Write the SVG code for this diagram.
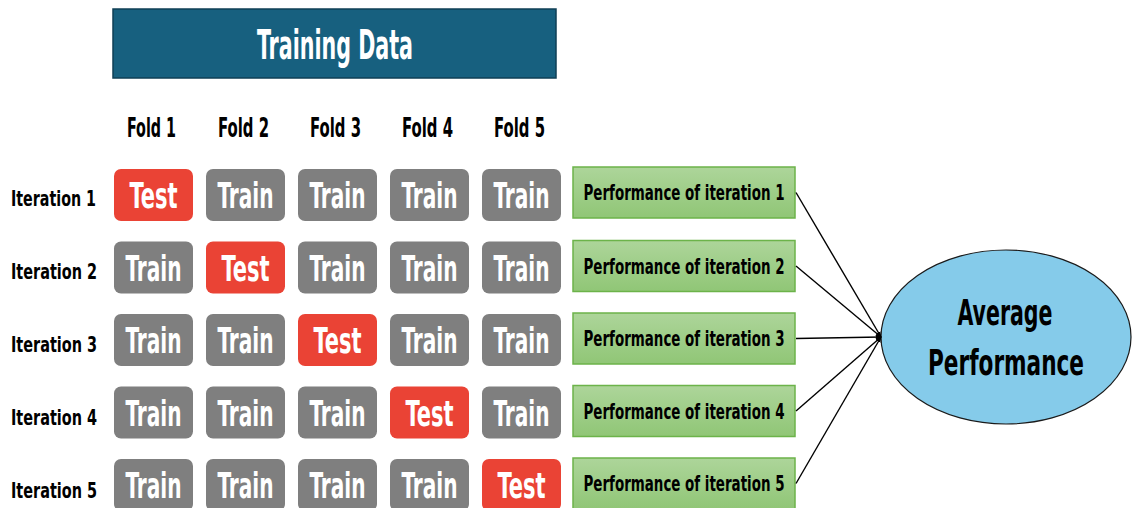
<svg xmlns="http://www.w3.org/2000/svg" width="1133" height="508" viewBox="0 0 1133 508">
  <defs>
    <linearGradient id="perfFill" x1="0" y1="0" x2="0" y2="1">
      <stop offset="0" stop-color="#add59a"/>
      <stop offset="1" stop-color="#90c676"/>
    </linearGradient>
    <marker id="arrow" viewBox="0 0 10 10" refX="9" refY="5" markerWidth="6" markerHeight="6" orient="auto" markerUnits="userSpaceOnUse">
      <path d="M0,1 L10,5 L0,9 Z" fill="#000"/>
    </marker>
    <style>
      text { font-family: "Liberation Sans Narrow", "DejaVu Sans Condensed", "Liberation Sans", sans-serif; font-weight: bold; }
      .hdr { fill: #17607f; stroke: #0f3f55; stroke-width: 1.5; }
      .hdr-t { fill: #fff; font-size: 40px; }
      .fold { fill: #000; font-size: 26px; }
      .iter { fill: #000; font-size: 22px; }
      .train { fill: #7f7f7f; }
      .test { fill: #ea4335; }
      .cell-t { fill: #fff; font-size: 36px; }
      .perf { fill: url(#perfFill); stroke: #6cb34a; stroke-width: 1.5; }
      .perf-t { fill: #000; font-size: 21px; }
      .avg { fill: #85cbea; stroke: #1a1a1a; stroke-width: 1.2; }
      .avg-t { fill: #000; font-size: 35px; }
      .conn { stroke: #000; stroke-width: 1.4; fill: none; marker-end: url(#arrow); }
    </style>
  </defs>

  <rect width="1133" height="508" fill="#fff"/>

  <!-- header bar -->
  <g id="training-data">
    <rect class="hdr" x="113" y="9" width="443" height="69"/>
    <text class="hdr-t" x="335" y="59" text-anchor="middle" textLength="156" lengthAdjust="spacingAndGlyphs">Training Data</text>
  </g>

  <!-- fold column headings -->
  <g id="fold-labels">
    <text class="fold" x="151.5" y="137" text-anchor="middle" textLength="49" lengthAdjust="spacingAndGlyphs">Fold 1</text>
    <text class="fold" x="243.5" y="137" text-anchor="middle" textLength="51" lengthAdjust="spacingAndGlyphs">Fold 2</text>
    <text class="fold" x="335.5" y="137" text-anchor="middle" textLength="51" lengthAdjust="spacingAndGlyphs">Fold 3</text>
    <text class="fold" x="427.5" y="137" text-anchor="middle" textLength="51" lengthAdjust="spacingAndGlyphs">Fold 4</text>
    <text class="fold" x="519.5" y="137" text-anchor="middle" textLength="51" lengthAdjust="spacingAndGlyphs">Fold 5</text>
  </g>

  <!-- iteration 1 -->
  <g id="iteration-1">
    <text class="iter" x="11" y="206" textLength="85" lengthAdjust="spacingAndGlyphs">Iteration 1</text>
    <rect class="test" x="114" y="169" width="79" height="52" rx="7"/>
    <text class="cell-t" x="153.5" y="208" text-anchor="middle" textLength="48" lengthAdjust="spacingAndGlyphs">Test</text>
    <rect class="train" x="206" y="169" width="79" height="52" rx="7"/>
    <text class="cell-t" x="245.5" y="208" text-anchor="middle" textLength="56" lengthAdjust="spacingAndGlyphs">Train</text>
    <rect class="train" x="298" y="169" width="79" height="52" rx="7"/>
    <text class="cell-t" x="337.5" y="208" text-anchor="middle" textLength="56" lengthAdjust="spacingAndGlyphs">Train</text>
    <rect class="train" x="390" y="169" width="79" height="52" rx="7"/>
    <text class="cell-t" x="429.5" y="208" text-anchor="middle" textLength="56" lengthAdjust="spacingAndGlyphs">Train</text>
    <rect class="train" x="482" y="169" width="79" height="52" rx="7"/>
    <text class="cell-t" x="521.5" y="208" text-anchor="middle" textLength="56" lengthAdjust="spacingAndGlyphs">Train</text>
  </g>

  <!-- iteration 2 -->
  <g id="iteration-2">
    <text class="iter" x="11" y="279" textLength="86" lengthAdjust="spacingAndGlyphs">Iteration 2</text>
    <rect class="train" x="114" y="241.5" width="79" height="52" rx="7"/>
    <text class="cell-t" x="153.5" y="280.5" text-anchor="middle" textLength="56" lengthAdjust="spacingAndGlyphs">Train</text>
    <rect class="test" x="206" y="241.5" width="79" height="52" rx="7"/>
    <text class="cell-t" x="245.5" y="280.5" text-anchor="middle" textLength="48" lengthAdjust="spacingAndGlyphs">Test</text>
    <rect class="train" x="298" y="241.5" width="79" height="52" rx="7"/>
    <text class="cell-t" x="337.5" y="280.5" text-anchor="middle" textLength="56" lengthAdjust="spacingAndGlyphs">Train</text>
    <rect class="train" x="390" y="241.5" width="79" height="52" rx="7"/>
    <text class="cell-t" x="429.5" y="280.5" text-anchor="middle" textLength="56" lengthAdjust="spacingAndGlyphs">Train</text>
    <rect class="train" x="482" y="241.5" width="79" height="52" rx="7"/>
    <text class="cell-t" x="521.5" y="280.5" text-anchor="middle" textLength="56" lengthAdjust="spacingAndGlyphs">Train</text>
  </g>

  <!-- iteration 3 -->
  <g id="iteration-3">
    <text class="iter" x="11" y="352" textLength="86" lengthAdjust="spacingAndGlyphs">Iteration 3</text>
    <rect class="train" x="114" y="314" width="79" height="52" rx="7"/>
    <text class="cell-t" x="153.5" y="353" text-anchor="middle" textLength="56" lengthAdjust="spacingAndGlyphs">Train</text>
    <rect class="train" x="206" y="314" width="79" height="52" rx="7"/>
    <text class="cell-t" x="245.5" y="353" text-anchor="middle" textLength="56" lengthAdjust="spacingAndGlyphs">Train</text>
    <rect class="test" x="298" y="314" width="79" height="52" rx="7"/>
    <text class="cell-t" x="337.5" y="353" text-anchor="middle" textLength="48" lengthAdjust="spacingAndGlyphs">Test</text>
    <rect class="train" x="390" y="314" width="79" height="52" rx="7"/>
    <text class="cell-t" x="429.5" y="353" text-anchor="middle" textLength="56" lengthAdjust="spacingAndGlyphs">Train</text>
    <rect class="train" x="482" y="314" width="79" height="52" rx="7"/>
    <text class="cell-t" x="521.5" y="353" text-anchor="middle" textLength="56" lengthAdjust="spacingAndGlyphs">Train</text>
  </g>

  <!-- iteration 4 -->
  <g id="iteration-4">
    <text class="iter" x="11" y="425" textLength="86" lengthAdjust="spacingAndGlyphs">Iteration 4</text>
    <rect class="train" x="114" y="386.5" width="79" height="52" rx="7"/>
    <text class="cell-t" x="153.5" y="425.5" text-anchor="middle" textLength="56" lengthAdjust="spacingAndGlyphs">Train</text>
    <rect class="train" x="206" y="386.5" width="79" height="52" rx="7"/>
    <text class="cell-t" x="245.5" y="425.5" text-anchor="middle" textLength="56" lengthAdjust="spacingAndGlyphs">Train</text>
    <rect class="train" x="298" y="386.5" width="79" height="52" rx="7"/>
    <text class="cell-t" x="337.5" y="425.5" text-anchor="middle" textLength="56" lengthAdjust="spacingAndGlyphs">Train</text>
    <rect class="test" x="390" y="386.5" width="79" height="52" rx="7"/>
    <text class="cell-t" x="429.5" y="425.5" text-anchor="middle" textLength="48" lengthAdjust="spacingAndGlyphs">Test</text>
    <rect class="train" x="482" y="386.5" width="79" height="52" rx="7"/>
    <text class="cell-t" x="521.5" y="425.5" text-anchor="middle" textLength="56" lengthAdjust="spacingAndGlyphs">Train</text>
  </g>

  <!-- iteration 5 -->
  <g id="iteration-5">
    <text class="iter" x="11" y="498" textLength="86" lengthAdjust="spacingAndGlyphs">Iteration 5</text>
    <rect class="train" x="114" y="459" width="79" height="52" rx="7"/>
    <text class="cell-t" x="153.5" y="498" text-anchor="middle" textLength="56" lengthAdjust="spacingAndGlyphs">Train</text>
    <rect class="train" x="206" y="459" width="79" height="52" rx="7"/>
    <text class="cell-t" x="245.5" y="498" text-anchor="middle" textLength="56" lengthAdjust="spacingAndGlyphs">Train</text>
    <rect class="train" x="298" y="459" width="79" height="52" rx="7"/>
    <text class="cell-t" x="337.5" y="498" text-anchor="middle" textLength="56" lengthAdjust="spacingAndGlyphs">Train</text>
    <rect class="train" x="390" y="459" width="79" height="52" rx="7"/>
    <text class="cell-t" x="429.5" y="498" text-anchor="middle" textLength="56" lengthAdjust="spacingAndGlyphs">Train</text>
    <rect class="test" x="482" y="459" width="79" height="52" rx="7"/>
    <text class="cell-t" x="521.5" y="498" text-anchor="middle" textLength="48" lengthAdjust="spacingAndGlyphs">Test</text>
  </g>

  <!-- per-iteration performance boxes -->
  <g id="perf-1">
    <rect class="perf" x="573" y="167" width="222" height="51"/>
    <text class="perf-t" x="684" y="200" text-anchor="middle" textLength="201" lengthAdjust="spacingAndGlyphs">Performance of iteration 1</text>
  </g>
  <g id="perf-2">
    <rect class="perf" x="573" y="240.5" width="222" height="51"/>
    <text class="perf-t" x="684" y="273.5" text-anchor="middle" textLength="201" lengthAdjust="spacingAndGlyphs">Performance of iteration 2</text>
  </g>
  <g id="perf-3">
    <rect class="perf" x="573" y="313" width="222" height="51"/>
    <text class="perf-t" x="684" y="346" text-anchor="middle" textLength="201" lengthAdjust="spacingAndGlyphs">Performance of iteration 3</text>
  </g>
  <g id="perf-4">
    <rect class="perf" x="573" y="385.5" width="222" height="51"/>
    <text class="perf-t" x="684" y="418.5" text-anchor="middle" textLength="201" lengthAdjust="spacingAndGlyphs">Performance of iteration 4</text>
  </g>
  <g id="perf-5">
    <rect class="perf" x="573" y="458" width="222" height="51"/>
    <text class="perf-t" x="684" y="491" text-anchor="middle" textLength="201" lengthAdjust="spacingAndGlyphs">Performance of iteration 5</text>
  </g>

  <!-- aggregate result -->
  <g id="average-performance">
    <ellipse class="avg" cx="1006" cy="337" rx="125" ry="87"/>
    <text class="avg-t" x="1005" y="325" text-anchor="middle" textLength="95" lengthAdjust="spacingAndGlyphs">Average</text>
    <text class="avg-t" x="1006" y="375" text-anchor="middle" textLength="156" lengthAdjust="spacingAndGlyphs">Performance</text>
  </g>

  <!-- connectors -->
  <g id="connectors">
    <line class="conn" x1="796" y1="192.5" x2="881" y2="337"/>
    <line class="conn" x1="796" y1="266" x2="881" y2="337"/>
    <line class="conn" x1="796" y1="338.5" x2="881" y2="337"/>
    <line class="conn" x1="796" y1="411" x2="881" y2="337"/>
    <line class="conn" x1="796" y1="483.5" x2="881" y2="337"/>
  </g>
</svg>
